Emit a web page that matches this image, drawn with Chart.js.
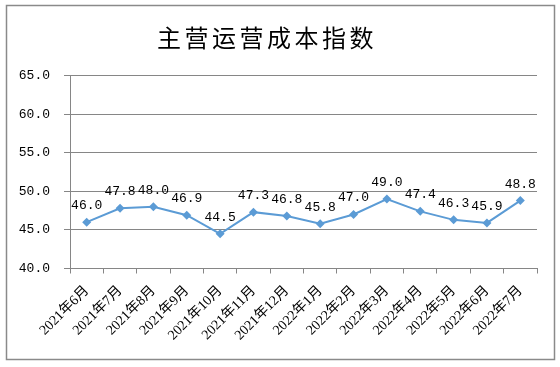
<!DOCTYPE html>
<html>
<head>
<meta charset="utf-8">
<script src="https://cdn.jsdelivr.net/npm/chart.js@4/dist/chart.umd.min.js"></script>
<style>
html, body { margin: 0; background: #fff; }
#wrap { position: relative; width: 560px; height: 367px; }
</style>
</head>
<body>
<div id="wrap"><canvas id="c" width="560" height="367"></canvas></div>
<script>
var titleText = "主营运营成本指数";
var months = ["2021年6月", "2021年7月", "2021年8月", "2021年9月", "2021年10月", "2021年11月", "2021年12月",
              "2022年1月", "2022年2月", "2022年3月", "2022年4月", "2022年5月", "2022年6月", "2022年7月"];
var costIndex = [46.0, 47.8, 48.0, 46.9, 44.5, 47.3, 46.8, 45.8, 47.0, 49.0, 47.4, 46.3, 45.9, 48.8];
var yMin = 40, yMax = 65, yStep = 5;

var lineColor = "#5B9BD5";
var gridColor = "#868686";
var numFont = '"Liberation Mono", "DejaVu Sans Mono", monospace';

// outer frame and title
var framePlugin = {
    id: "frame",
    beforeDraw: function(chart) {
        var ctx = chart.ctx;
        ctx.save();
        ctx.fillStyle = "#fff";
        ctx.fillRect(0, 0, chart.width, chart.height);
        ctx.strokeStyle = "#8a8a8a";
        ctx.lineWidth = 1.5;
        ctx.strokeRect(6.5, 5.5, 548, 354);
        ctx.fillStyle = "#000";
        ctx.font = '24px "Noto Sans CJK SC"';
        ctx.letterSpacing = "3.5px";
        ctx.textAlign = "center";
        ctx.textBaseline = "middle";
        ctx.fillText(titleText, 267, 38);
        ctx.restore();
    }
};

// value labels above the points
var valueLabels = {
    id: "valueLabels",
    afterDatasetsDraw: function(chart) {
        var ctx = chart.ctx;
        var meta = chart.getDatasetMeta(0);
        ctx.save();
        ctx.fillStyle = "#000";
        ctx.font = "13px " + numFont;
        ctx.textAlign = "center";
        ctx.textBaseline = "alphabetic";
        meta.data.forEach(function(pt, i) {
            ctx.fillText(costIndex[i].toFixed(1), pt.x, pt.y - 13);
        });
        ctx.restore();
    }
};

new Chart(document.getElementById("c"), {
    type: "line",
    data: {
        labels: months,
        datasets: [{
            data: costIndex,
            borderColor: lineColor,
            backgroundColor: lineColor,
            borderWidth: 2,
            tension: 0,
            pointStyle: "rectRot",
            pointRadius: 4.5,
            pointBorderWidth: 0,
            pointBackgroundColor: lineColor
        }]
    },
    options: {
        responsive: false,
        devicePixelRatio: 1,
        animation: false,
        layout: { padding: { top: 75.5, right: 23, left: 0, bottom: 0 } },
        plugins: {
            legend: { display: false },
            tooltip: { enabled: false },
            title: { display: false }
        },
        scales: {
            x: {
                offset: true,
                grid: { offset: true, drawOnChartArea: false, drawTicks: true, tickLength: 5, color: gridColor },
                border: { display: true, color: gridColor },
                ticks: {
                    autoSkip: false,
                    minRotation: 45,
                    maxRotation: 45,
                    padding: 9,
                    color: "#000",
                    font: { family: '"Liberation Serif", "Noto Sans CJK SC", serif', size: 14 }
                },
                afterFit: function(s) { s.height = 98.5; }
            },
            y: {
                min: yMin,
                max: yMax,
                grid: { color: gridColor, tickLength: 6 },
                border: { display: true, color: gridColor },
                ticks: {
                    stepSize: yStep,
                    padding: 14,
                    color: "#000",
                    font: { family: numFont, size: 13 },
                    callback: function(v) { return v.toFixed(1); }
                },
                afterFit: function(s) { s.width = 70; }
            }
        }
    },
    plugins: [framePlugin, valueLabels]
});
</script>
</body>
</html>
